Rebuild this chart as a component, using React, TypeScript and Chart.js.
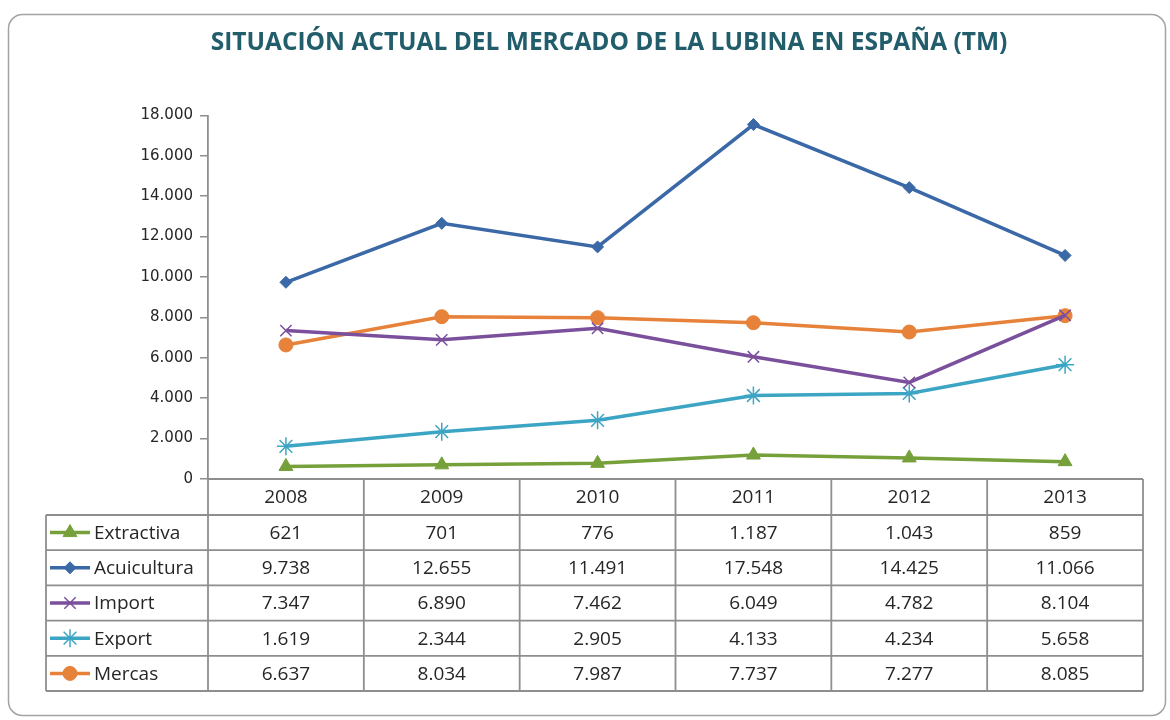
import { useEffect, useRef } from "react";
import { Chart, registerables } from "chart.js";
import * as helpers from "chart.js/helpers";

Chart.register(...registerables);

const TITLE = "SITUACIÓN ACTUAL DEL MERCADO DE LA LUBINA EN ESPAÑA (TM)";
const years = ["2008", "2009", "2010", "2011", "2012", "2013"];
const seriesNames = ["Extractiva", "Acuicultura", "Import", "Export", "Mercas"];
const extractiva = [621, 701, 776, 1187, 1043, 859];
const acuicultura = [9738, 12655, 11491, 17548, 14425, 11066];
const importData = [7347, 6890, 7462, 6049, 4782, 8104];
const exportData = [1619, 2344, 2905, 4133, 4234, 5658];
const mercas = [6637, 8034, 7987, 7737, 7277, 8085];
const yMin = 0;
const yMax = 18000;
const yStep = 2000;

const FONT = "'Open Sans', sans-serif";
const TEXT = "#262626";
const GRID = "#8e8e8e";

const fmt = (v: number) =>
  String(Math.round(v)).replace(/\B(?=(\d{3})+(?!\d))/g, ".");

const frame = {
  id: "frame",
  beforeDraw(chart: any) {
    const ctx = chart.ctx;
    ctx.save();
    ctx.fillStyle = "#ffffff";
    ctx.fillRect(0, 0, chart.width, chart.height);
    ctx.beginPath();
    ctx.roundRect(8.5, 14.5, 1157, 701, 14);
    ctx.fillStyle = "#ffffff";
    ctx.fill();
    ctx.strokeStyle = "#a3a3a3";
    ctx.lineWidth = 1.5;
    ctx.stroke();
    ctx.restore();
  },
};

const dataTable = {
  id: "dataTable",
  afterDraw(chart: any) {
    const { ctx, chartArea } = chart;
    const xs = chart.scales.x;
    const n = years.length;
    const step = (chartArea.right - chartArea.left) / n;
    const top = chartArea.bottom;
    const headerH = 36;
    const rowH = 35.2;
    const legendLeft = 46;
    const nRows = chart.data.datasets.length;
    const bottom = top + headerH + nRows * rowH;
    ctx.save();
    ctx.strokeStyle = GRID;
    ctx.lineWidth = 1.8;
    ctx.beginPath();
    ctx.moveTo(chartArea.left, top);
    ctx.lineTo(chartArea.right, top);
    ctx.stroke();
    for (let r = 0; r <= nRows; r++) {
      const y = top + headerH + r * rowH;
      ctx.beginPath();
      ctx.moveTo(legendLeft, y);
      ctx.lineTo(chartArea.right, y);
      ctx.stroke();
    }
    ctx.beginPath();
    ctx.moveTo(legendLeft, top + headerH);
    ctx.lineTo(legendLeft, bottom);
    ctx.stroke();
    for (let i = 0; i <= n; i++) {
      const x = chartArea.left + i * step;
      ctx.beginPath();
      ctx.moveTo(x, top);
      ctx.lineTo(x, bottom);
      ctx.stroke();
    }
    ctx.fillStyle = TEXT;
    ctx.font = `19px ${FONT}`;
    ctx.textAlign = "center";
    ctx.textBaseline = "middle";
    years.forEach((yr, i) => {
      ctx.fillText(yr, xs.getPixelForValue(i), top + headerH / 2 + 1);
    });
    chart.data.datasets.forEach((ds: any, r: number) => {
      const yMid = top + headerH + r * rowH + rowH / 2;
      ctx.strokeStyle = ds.borderColor;
      ctx.lineWidth = 3.5;
      ctx.beginPath();
      ctx.moveTo(50, yMid);
      ctx.lineTo(90, yMid);
      ctx.stroke();
      ctx.fillStyle = ds.pointBackgroundColor;
      ctx.strokeStyle = ds.borderColor;
      ctx.lineWidth = ds.pointBorderWidth;
      helpers.drawPoint(
        ctx,
        { pointStyle: ds.pointStyle, radius: ds.pointRadius, rotation: 0, borderWidth: ds.pointBorderWidth },
        70,
        yMid
      );
      ctx.fillStyle = TEXT;
      ctx.textAlign = "left";
      ctx.fillText(ds.label, 94, yMid + 1);
      ctx.textAlign = "center";
      ds.data.forEach((v: number, i: number) => {
        ctx.fillText(fmt(v), xs.getPixelForValue(i), yMid + 1);
      });
    });
    ctx.restore();
  },
};

function mk(label: string, data: number[], color: string, pointStyle: string, radius: number, pbw: number, fill: string) {
  return {
    label,
    data,
    borderColor: color,
    backgroundColor: color,
    pointBackgroundColor: fill,
    pointBorderColor: color,
    borderWidth: 3.5,
    pointStyle,
    pointRadius: radius,
    pointBorderWidth: pbw,
    tension: 0,
  };
}

export default function App() {
  const ref = useRef<HTMLCanvasElement | null>(null);
  useEffect(() => {
    if (!ref.current) return;
    const chart = new Chart(ref.current, {
      type: "line",
      data: {
        labels: years,
        datasets: [
          mk(seriesNames[0], extractiva, "#76a03a", "triangle", 8, 1, "#76a03a"),
          mk(seriesNames[1], acuicultura, "#3b68a6", "rectRot", 6, 1, "#3b68a6"),
          mk(seriesNames[2], importData, "#7a4f9c", "crossRot", 8, 1.5, "#7a4f9c"),
          mk(seriesNames[3], exportData, "#3da5c4", "star", 9, 1.5, "#3da5c4"),
          mk(seriesNames[4], mercas, "#e6823a", "circle", 7, 1, "#e6823a"),
        ],
      },
      options: {
        animation: false,
        responsive: false,
        maintainAspectRatio: false,
        layout: { padding: { left: 75, right: 27, top: 0, bottom: 241 } },
        plugins: {
          legend: { display: false },
          tooltip: { enabled: false },
          title: {
            display: true,
            text: TITLE,
            color: "#225d6b",
            font: { family: FONT, size: 24.5, weight: "bold", lineHeight: 1.2 },
            padding: { top: 28, bottom: 58 },
          },
        },
        scales: {
          x: { type: "category", offset: true, display: false },
          y: {
            min: yMin,
            max: yMax,
            ticks: {
              stepSize: yStep,
              color: TEXT,
              font: { family: "'DejaVu Sans', sans-serif", size: 15 },
              padding: 7,
              callback: (v: any) => fmt(Number(v)),
            },
            grid: { drawOnChartArea: false, drawTicks: true, tickLength: 8, color: GRID, lineWidth: 1.5 },
            border: { display: true, color: GRID, width: 1.8 },
            afterFit: (s: any) => {
              s.width = 133;
            },
          },
        },
      },
      plugins: [frame, dataTable],
    });
    return () => chart.destroy();
  }, []);
  return (
    <div style={{ position: "fixed", left: 0, top: 0, width: 1170, height: 720 }}>
      <canvas ref={ref} width={1170} height={720} style={{ width: 1170, height: 720 }} />
    </div>
  );
}
